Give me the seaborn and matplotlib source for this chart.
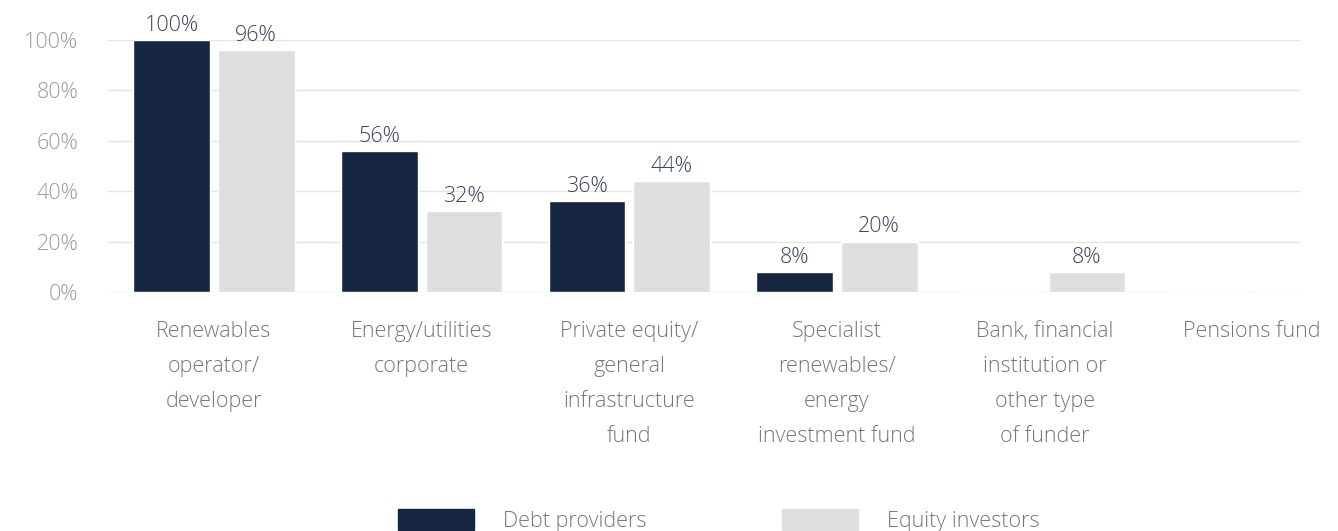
import pandas as pd
import matplotlib.pyplot as plt
import seaborn as sns

categories = ['Renewables\noperator/\ndeveloper', 'Energy/utilities\ncorporate',
              'Private equity/\ngeneral\ninfrastructure\nfund',
              'Specialist\nrenewables/\nenergy\ninvestment fund',
              'Bank, financial\ninstitution or\nother type\nof funder', 'Pensions fund']
debt = [100, 56, 36, 8, 0, 0]
equity = [96, 32, 44, 20, 8, 0]
series = ['Debt providers', 'Equity investors']
colors = ['#172640', '#dedede']

df = pd.DataFrame({
    'category': categories * 2,
    'value': debt + equity,
    'series': [series[0]] * len(categories) + [series[1]] * len(categories),
})

sns.set_style('white')
plt.rcParams['font.family'] = ['Open Sans', 'DejaVu Sans']
plt.rcParams['font.weight'] = 'light'
fs = 15.5

fig = plt.figure(figsize=(13.38, 5.31), dpi=100)
ax = fig.add_axes([108 / 1338, 1 - 292 / 531, 1192 / 1338, 252 / 531])

sns.barplot(data=df, x='category', y='value', hue='series', palette=colors,
            width=0.815, gap=0.095, saturation=1, ax=ax, legend=False)

ax.set_ylim(0, 100)
ax.set_xlim(-0.51, 5.23)
ax.set_yticks(range(0, 101, 20))
ax.set_yticklabels([f'{v}%' for v in range(0, 101, 20)])
ax.grid(axis='y', color='#e4e4e4', linewidth=1)
ax.set_axisbelow(True)
for s in ax.spines.values():
    s.set_visible(False)
ax.tick_params(axis='y', length=0, pad=21.5, labelsize=fs, labelcolor='#9a9a9a')
ax.tick_params(axis='x', length=0, pad=21, labelsize=fs, labelcolor='#777777')
for t in ax.get_xticklabels():
    t.set_linespacing(1.87)
ax.set_xlabel('')
ax.set_ylabel('')

for cont, vals in zip(ax.containers, [debt, equity]):
    labels = [f'{v}%' if v > 0 else '' for v in vals]
    ax.bar_label(cont, labels=labels, padding=3, fontsize=fs, color='#3b4659', clip_on=False)

handles = [plt.Rectangle((0, 0), 1, 1, color=c) for c in colors]
fig.legend(handles, series, loc='center', bbox_to_anchor=(719 / 1338, 0.02), ncol=2,
           frameon=False, fontsize=fs, labelcolor='#777777', handlelength=3.53,
           handleheight=1.1, handletextpad=1.35, columnspacing=6.28)

fig.savefig('out.png', dpi=100)
